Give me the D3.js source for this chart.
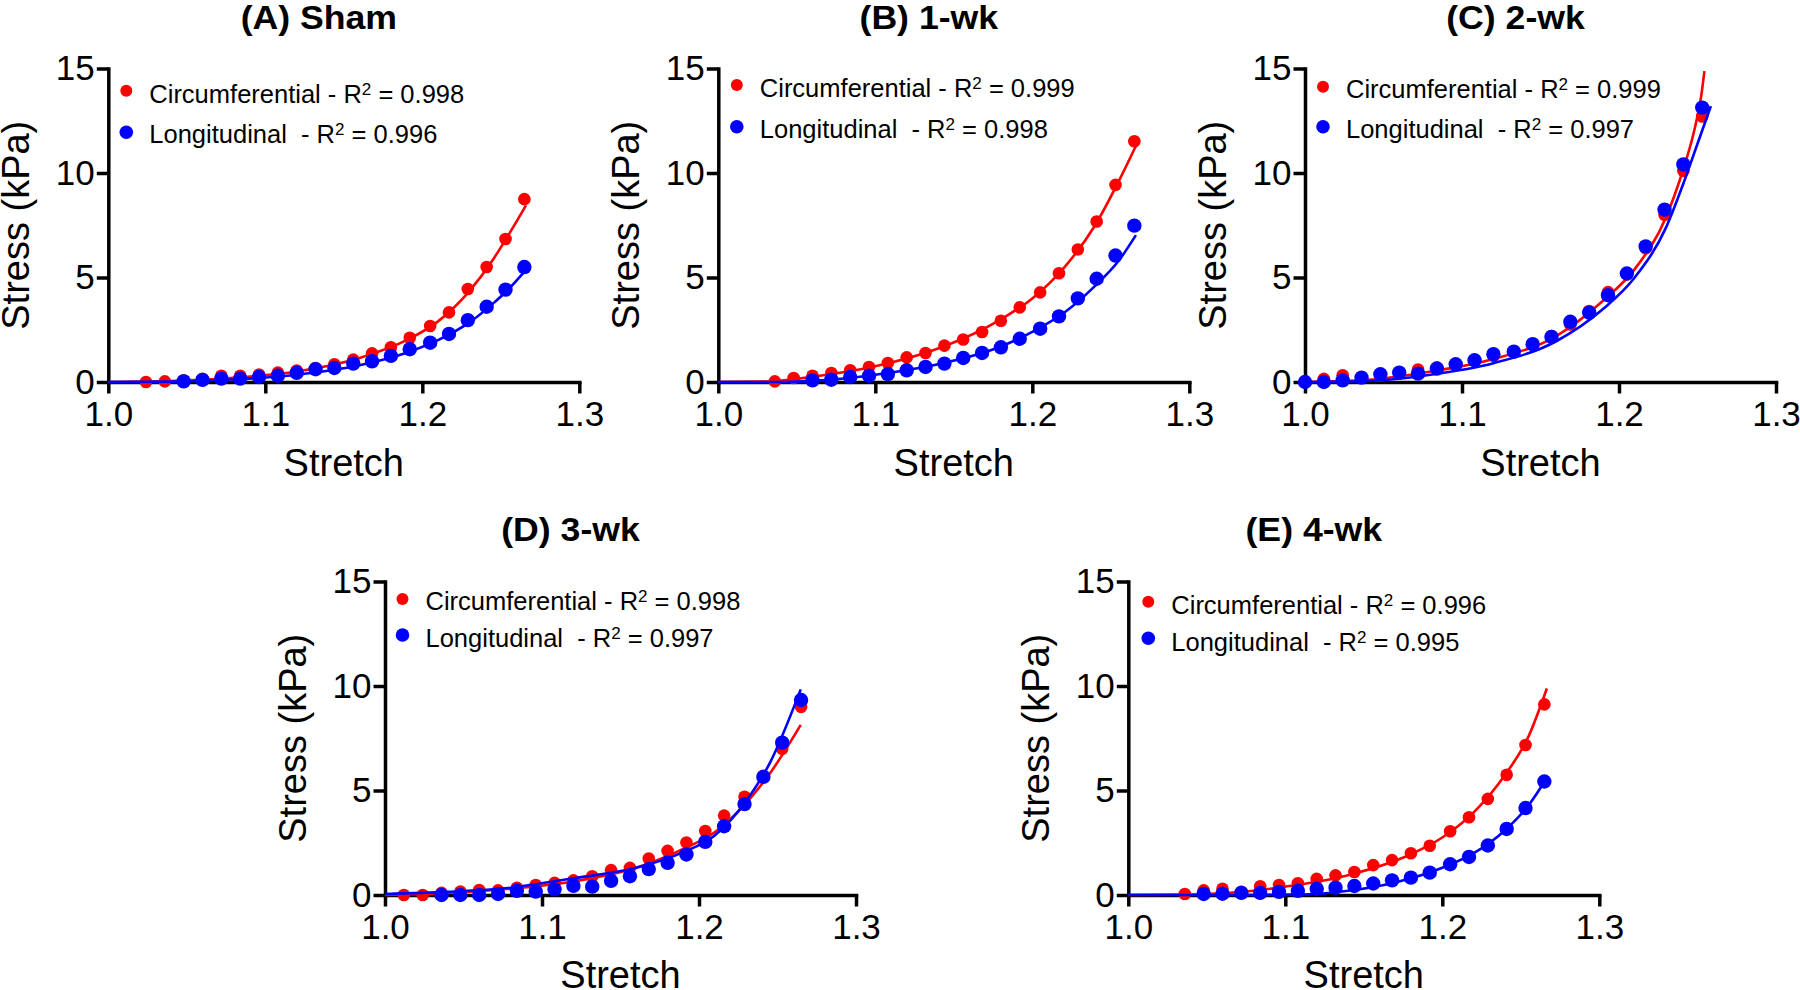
<!DOCTYPE html>
<html><head><meta charset="utf-8">
<script src="https://cdn.jsdelivr.net/npm/d3@7"></script>
<style>
body{margin:0;background:#fff;}
svg{display:block;font-family:Arial,'Liberation Sans',sans-serif;}
</style></head><body>
<svg id="chart" width="1800" height="990"></svg>
<script>
// ---------- data ----------
const xTicks = [1.0, 1.1, 1.2, 1.3];
const yTicks = [0, 5, 10, 15];
const panelTitles = ["(A) Sham", "(B) 1-wk", "(C) 2-wk", "(D) 3-wk", "(E) 4-wk"];
const seriesNames = ["Circumferential - R", "Longitudinal  - R"];
const r2Circ = ["0.998", "0.999", "0.999", "0.998", "0.996"];
const r2Long = ["0.996", "0.998", "0.997", "0.997", "0.995"];

// measured stretch positions of the data points
const gridABE = [1.024, 1.036, 1.048, 1.060, 1.072, 1.084, 1.096, 1.108, 1.120, 1.132, 1.144, 1.156, 1.168, 1.180, 1.192, 1.205, 1.217, 1.229, 1.241, 1.253, 1.265];
const gridC = [1.000, 1.012, 1.024, 1.036, 1.048, 1.060, 1.072, 1.084, 1.096, 1.108, 1.120, 1.133, 1.145, 1.157, 1.169, 1.181, 1.193, 1.205, 1.217, 1.229, 1.241, 1.253];
const gridD = [1.012, 1.024, 1.036, 1.048, 1.060, 1.072, 1.084, 1.096, 1.108, 1.120, 1.132, 1.144, 1.156, 1.168, 1.180, 1.192, 1.204, 1.216, 1.229, 1.241, 1.253, 1.265];

// stress (kPa) at those positions (null = no point)
const circA = [0.0, 0.03, 0.08, 0.15, 0.3, 0.3, 0.36, 0.45, 0.55, 0.67, 0.85, 1.07, 1.37, 1.66, 2.12, 2.68, 3.33, 4.45, 5.5, 6.84, 8.75];
const longA = [null, null, 0.03, 0.1, 0.16, 0.16, 0.24, 0.3, 0.44, 0.61, 0.67, 0.88, 0.99, 1.25, 1.57, 1.88, 2.3, 2.96, 3.6, 4.42, 5.5];
const circB = [null, 0.03, 0.19, 0.3, 0.43, 0.56, 0.72, 0.91, 1.18, 1.39, 1.74, 2.03, 2.39, 2.93, 3.57, 4.29, 5.2, 6.34, 7.68, 9.43, 11.52];
const longB = [null, null, null, 0.08, 0.11, 0.24, 0.30, 0.38, 0.56, 0.72, 0.88, 1.15, 1.39, 1.66, 2.07, 2.55, 3.14, 4.0, 4.94, 6.05, 7.48];
const circC = [0.0, 0.15, 0.32, 0.2, 0.3, 0.4, 0.6, 0.7, 0.85, 1.0, 1.25, 1.45, 1.78, 2.2, 2.75, 3.4, 4.3, 5.15, 6.4, 8.0, 10.1, 12.7];
const longC = [0.0, 0.0, 0.08, 0.21, 0.37, 0.45, 0.40, 0.64, 0.85, 1.04, 1.33, 1.45, 1.81, 2.16, 2.88, 3.32, 4.15, 5.19, 6.49, 8.25, 10.41, 13.13];
const circD = [0.0, 0.0, 0.1, 0.16, 0.24, 0.22, 0.35, 0.48, 0.58, 0.7, 0.9, 1.19, 1.3, 1.75, 2.11, 2.51, 3.06, 3.8, 4.7, 5.7, 7.0, 9.0];
const longD = [null, null, 0.0, 0.0, 0.0, 0.05, 0.2, 0.16, 0.27, 0.44, 0.4, 0.68, 0.9, 1.24, 1.54, 1.94, 2.54, 3.29, 4.35, 5.65, 7.29, 9.33];
const circE = [null, 0.05, 0.22, 0.3, 0.15, 0.42, 0.48, 0.56, 0.77, 0.94, 1.1, 1.43, 1.67, 2.0, 2.36, 3.05, 3.72, 4.6, 5.75, 7.18, 9.12];
const longE = [null, null, 0.05, 0.06, 0.1, 0.1, 0.15, 0.2, 0.3, 0.35, 0.43, 0.55, 0.7, 0.83, 1.07, 1.47, 1.82, 2.37, 3.16, 4.16, 5.43];

// fitted curves (stretch, stress)
const fitCircAx = [1.0, 1.04, 1.08, 1.12, 1.16, 1.19, 1.21, 1.23, 1.245, 1.255, 1.266];
const fitCircAy = [0, 0.05, 0.2, 0.5, 1.15, 2.0, 2.9, 4.35, 5.85, 7.05, 8.45];
const fitLongAx = [1.0, 1.04, 1.08, 1.12, 1.16, 1.19, 1.21, 1.23, 1.245, 1.255, 1.266];
const fitLongAy = [0, 0.02, 0.12, 0.35, 0.8, 1.4, 2.0, 2.85, 3.75, 4.45, 5.37];
const fitCircBx = [1.0, 1.03, 1.06, 1.1, 1.14, 1.18, 1.2, 1.22, 1.24, 1.255, 1.266];
const fitCircBy = [0, 0.02, 0.25, 0.75, 1.6, 3.0, 4.0, 5.45, 7.5, 9.6, 11.3];
const fitLongBx = [1.0, 1.04, 1.07, 1.1, 1.14, 1.18, 1.2, 1.22, 1.24, 1.255, 1.266];
const fitLongBy = [0, 0.0, 0.1, 0.35, 0.85, 1.7, 2.4, 3.3, 4.6, 5.8, 7.03];
const fitCircCx = [1.0, 1.04, 1.08, 1.12, 1.16, 1.19, 1.21, 1.23, 1.241, 1.2475, 1.2524, 1.2544];
const fitCircCy = [0, 0.1, 0.5, 1.1, 2.2, 3.9, 5.4, 7.9, 10.2, 11.9, 13.7, 14.87];
const fitLongCx = [1.0, 1.04, 1.08, 1.12, 1.16, 1.19, 1.21, 1.23, 1.241, 1.25, 1.2585];
const fitLongCy = [0, 0.05, 0.35, 0.9, 1.95, 3.5, 5.0, 7.4, 9.5, 11.4, 13.2];
const fitCircDx = [1.0, 1.04, 1.08, 1.12, 1.16, 1.19, 1.21, 1.23, 1.245, 1.2648];
const fitCircDy = [0.0, 0.1, 0.3, 0.65, 1.3, 2.2, 3.0, 4.4, 5.8, 8.14];
const fitLongDx = [1.0, 1.04, 1.08, 1.12, 1.16, 1.19, 1.21, 1.23, 1.245, 1.2648];
const fitLongDy = [0.05, 0.15, 0.35, 0.8, 1.3, 2.05, 2.85, 4.5, 6.3, 9.84];
const fitCircEx = [1.0, 1.04, 1.08, 1.1, 1.14, 1.18, 1.2, 1.22, 1.24, 1.255, 1.2666];
const fitCircEy = [0, 0.02, 0.2, 0.4, 0.95, 1.95, 2.75, 3.95, 5.75, 7.6, 9.88];
const fitLongEx = [1.0, 1.08, 1.11, 1.14, 1.17, 1.2, 1.22, 1.24, 1.255, 1.2666];
const fitLongEy = [0, 0, 0.02, 0.2, 0.6, 1.3, 2.0, 3.1, 4.3, 5.6];

// ---------- layout ----------
const RED = "#ff0000", BLUE = "#0000ff";
const FONT = "Arial, 'Liberation Sans', sans-serif";
const W = 471, H = 313.5;
const panels = [
  {x0: 108.3, yB: 382, tDx: -25, tY: 28.5, xlY: 476, leg: [90.7, 132.3], legB: [102.7, 143.3], lDx: 18, grid: gridABE, circ: circA, long: longA, fc: [fitCircAx, fitCircAy], fl: [fitLongAx, fitLongAy]},
  {x0: 718.3, yB: 382, tDx: -25, tY: 28.5, xlY: 476, leg: [85, 126.7], legB: [96.7, 138.3], lDx: 18.5, grid: gridABE, circ: circB, long: longB, fc: [fitCircBx, fitCircBy], fl: [fitLongBx, fitLongBy]},
  {x0: 1305, yB: 382, tDx: -25, tY: 28.5, xlY: 476, leg: [86.7, 126.7], legB: [97.7, 138.3], lDx: 18, grid: gridC, circ: circC, long: longC, fc: [fitCircCx, fitCircCy], fl: [fitLongCx, fitLongCy]},
  {x0: 385, yB: 895, tDx: -50, tY: 541, xlY: 988, leg: [599, 635], legB: [610, 646.7], lDx: 17.5, grid: gridD, circ: circD, long: longD, fc: [fitCircDx, fitCircDy], fl: [fitLongDx, fitLongDy]},
  {x0: 1128.3, yB: 895, tDx: -50, tY: 541, xlY: 988, leg: [601.7, 638.3], legB: [614, 650.7], lDx: 20, grid: gridABE, circ: circE, long: longE, fc: [fitCircEx, fitCircEy], fl: [fitLongEx, fitLongEy]}
];

const svg = d3.select("#chart");
svg.append("rect").attr("width", 1800).attr("height", 990).attr("fill", "#fff");

panels.forEach((p, i) => {
  const g = svg.append("g");
  const x = d3.scaleLinear().domain([1.0, 1.3]).range([p.x0, p.x0 + W]);
  const y = d3.scaleLinear().domain([0, 15]).range([p.yB, p.yB - H]);

  // axes
  const xa = g.append("g").attr("transform", `translate(0,${p.yB})`)
    .call(d3.axisBottom(x).tickValues(xTicks).tickFormat(d3.format(".1f")).tickSize(11.5).tickSizeOuter(0).tickPadding(7.5));
  const ya = g.append("g").attr("transform", `translate(${p.x0},0)`)
    .call(d3.axisLeft(y).tickValues(yTicks).tickFormat(d3.format("d")).tickSize(11.5).tickSizeOuter(0).tickPadding(2));
  [xa, ya].forEach(a => {
    a.attr("font-family", FONT).attr("font-size", 35);
    a.select(".domain").attr("stroke", "#000").attr("stroke-width", 3.5).attr("stroke-linecap", "square");
    a.selectAll(".tick line").attr("stroke", "#000").attr("stroke-width", 3.5);
    a.selectAll(".tick text").attr("fill", "#000");
  });

  const line = d3.line().x(d => x(d[0])).y(d => y(d[1])).curve(d3.curveMonotoneX);

  // circumferential
  g.append("path").datum(d3.zip(p.fc[0], p.fc[1])).attr("d", line)
    .attr("fill", "none").attr("stroke", RED).attr("stroke-width", 2.6);
  g.append("g").selectAll("circle")
    .data(d3.zip(p.grid, p.circ).filter(d => d[1] !== null))
    .join("circle").attr("cx", d => x(d[0])).attr("cy", d => y(d[1])).attr("r", 6.3).attr("fill", RED);

  // longitudinal
  g.append("path").datum(d3.zip(p.fl[0], p.fl[1])).attr("d", line)
    .attr("fill", "none").attr("stroke", BLUE).attr("stroke-width", 2.6);
  g.append("g").selectAll("circle")
    .data(d3.zip(p.grid, p.long).filter(d => d[1] !== null))
    .join("circle").attr("cx", d => x(d[0])).attr("cy", d => y(d[1])).attr("r", 7.2).attr("fill", BLUE);

  // title
  g.append("text").attr("transform", `translate(${p.x0 + W / 2 + p.tDx},${p.tY}) scale(1.08,1)`)
    .attr("text-anchor", "middle").attr("font-weight", "bold").attr("font-size", 33).attr("fill", "#000")
    .text(panelTitles[i]);

  // axis labels
  g.append("text").attr("x", p.x0 + W / 2).attr("y", p.xlY).attr("text-anchor", "middle")
    .attr("font-size", 38).attr("fill", "#000").text("Stretch");
  g.append("text").attr("transform", `translate(${p.x0 - 79.5},${p.yB - H / 2}) rotate(-90)`)
    .attr("text-anchor", "middle").attr("font-size", 38).attr("fill", "#000").text("Stress (kPa)");

  // legend
  const legend = [
    {name: seriesNames[0], r2: r2Circ[i], color: RED, r: 6.0},
    {name: seriesNames[1], r2: r2Long[i], color: BLUE, r: 6.8}
  ];
  legend.forEach((L, j) => {
    g.append("circle").attr("cx", p.x0 + p.lDx).attr("cy", p.leg[j]).attr("r", L.r).attr("fill", L.color);
    const t = g.append("text").attr("x", p.x0 + p.lDx + 23).attr("y", p.legB[j])
      .attr("font-size", 25.5).attr("fill", "#000").style("white-space", "pre");
    t.append("tspan").text(L.name);
    t.append("tspan").attr("font-size", 17).attr("dy", -8).text("2");
    t.append("tspan").attr("dy", 8).text(" = " + L.r2);
  });
});
</script>
</body></html>
